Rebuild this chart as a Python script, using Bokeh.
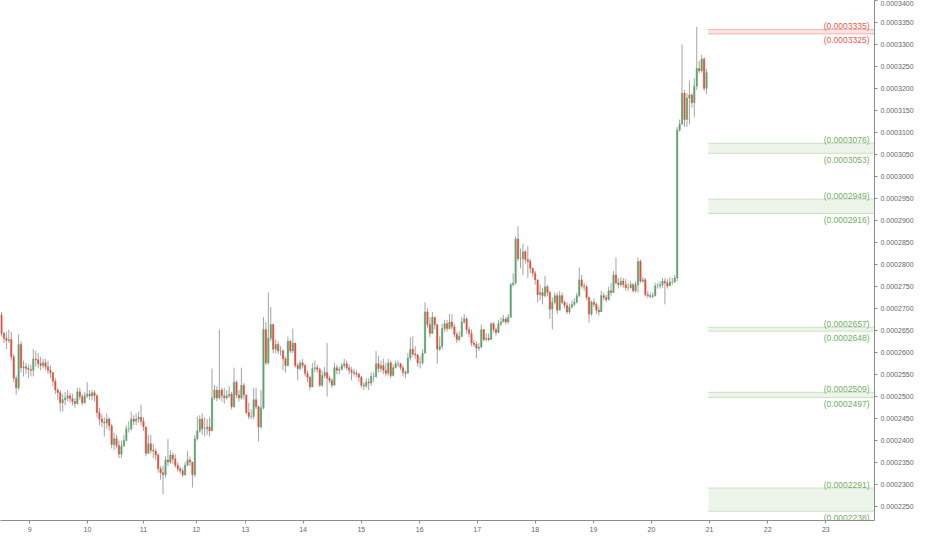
from bokeh.plotting import figure
from bokeh.models import (ColumnDataSource, FixedTicker, SingleIntervalTicker,
                          PrintfTickFormatter, Range1d)
from bokeh.embed import file_html
from bokeh.resources import INLINE
from bokeh.core.properties import value

# prices in units of 1e-7
UNIT = 1e-7
first_open = 2685
close = [2643,2632,2627,2629,2590,2541,2519,2618,2565,2567,
 2563,2561,2559,2585,2583,2574,2570,2576,2567,2559,
 2554,2534,2514,2508,2485,2492,2496,2501,2494,2488,
 2483,2510,2499,2485,2501,2505,2501,2508,2501,2463,
 2448,2441,2439,2448,2432,2390,2403,2388,2368,2386,
 2399,2426,2426,2448,2443,2448,2452,2443,2430,2370,
 2392,2377,2375,2366,2335,2326,2321,2355,2350,2366,
 2357,2343,2335,2330,2321,2343,2355,2350,2321,2403,
 2421,2448,2426,2426,2430,2421,2496,2514,2496,2514,
 2501,2496,2501,2505,2476,2532,
 2503,2496,2525,2503,2463,2454,2454,2492,2476,2430,
 2474,2652,2576,2632,2663,2607,2618,2603,2603,2585,
 2570,2625,2603,2621,2570,2563,2576,2570,2552,2543,
 2521,2563,2565,2561,2525,2547,2554,2541,2536,2525,
 2565,2559,2561,2570,2574,2565,2559,2554,2552,2550,
 2543,2525,2523,2532,2530,2545,2545,2574,2563,2570,
 2559,2552,2576,2547,2565,2574,2574,2565,2554,2552,
 2587,2607,2596,2594,2576,2576,2598,2692,2663,2643,
 2680,2663,2607,2614,2654,2665,2654,2669,2658,2641,
 2629,2636,2669,2676,2652,2643,2621,
 2618,2609,2612,2652,2629,2632,2629,2665,2652,2645,
 2665,2669,2676,2669,2680,2754,2758,2858,2813,2813,
 2829,2811,2807,2791,2780,2765,2731,2736,2729,2749,
 2736,2698,2714,2729,2696,2729,2714,2707,2692,2703,
 2709,2714,2729,2765,2751,2749,2725,2687,2714,2709,
 2696,2692,2729,2725,2720,2740,2736,2776,2758,2754,
 2762,2754,2747,2747,2754,2740,2754,2807,2762,2765,
 2731,2729,2727,2729,2751,2751,2754,2762,2758,2751,
 2760,2760,2769,3106,
 3119,3190,3130,3179,3186,3168,3206,3246,3241,3268,3201,3237]
high = [2692,2647,2647,2652,2647,2596,2547,2641,2625,2581,
 2576,2572,2572,2607,2603,2598,2590,2585,2585,2581,
 2570,2554,2541,2519,2514,2505,2510,2514,2508,2505,
 2496,2519,2519,2505,2510,2532,2514,2514,2514,2505,
 2474,2459,2452,2461,2452,2437,2417,2412,2399,2399,
 2412,2434,2443,2465,2457,2461,2465,2481,2452,2412,
 2412,2412,2392,2381,2370,2341,2341,2363,2403,2377,
 2372,2368,2350,2341,2337,2350,2375,2363,2337,2412,
 2454,2457,2461,2452,2448,2452,2563,2525,2523,2652,
 2519,2519,2514,2523,2510,2565,
 2536,2514,2565,2530,2503,2485,2470,2519,2519,2479,
 2514,2680,2669,2736,2703,2665,2629,2625,2614,2607,
 2590,2636,2629,2654,2621,2576,2581,2585,2574,2559,
 2547,2576,2581,2572,2565,2559,2567,2621,2547,2541,
 2576,2572,2567,2576,2585,2581,2572,2567,2563,2559,
 2554,2547,2532,2541,2541,2554,2554,2603,2592,2581,
 2585,2576,2585,2581,2572,2581,2581,2576,2572,2559,
 2598,2634,2636,2614,2596,2590,2607,2714,2700,2680,
 2692,2680,2658,2636,2665,2674,2674,2687,2687,2665,
 2647,2647,2680,2687,2680,2658,2652,
 2629,2625,2621,2663,2652,2643,2643,2669,2669,2656,
 2674,2680,2685,2680,2687,2758,2780,2864,2887,2836,
 2847,2833,2842,2813,2793,2785,2765,2754,2747,2774,
 2754,2740,2725,2736,2736,2740,2736,2718,2714,2711,
 2718,2723,2736,2793,2776,2758,2754,2727,2718,2723,
 2714,2705,2740,2736,2731,2749,2758,2785,2816,2769,
 2771,2769,2767,2758,2762,2758,2762,2816,2811,2771,
 2769,2740,2736,2736,2758,2758,2762,2769,2769,2767,
 2771,2769,2776,3113,
 3130,3301,3197,3190,3219,3190,3224,3341,3264,3277,3272,3246]
low = [2636,2621,2607,2621,2581,2532,2503,2514,2554,2545,
 2550,2541,2545,2545,2567,2563,2559,2563,2559,2550,
 2541,2523,2505,2492,2465,2465,2479,2488,2485,2479,
 2474,2483,2492,2479,2483,2496,2492,2492,2488,2452,
 2434,2430,2408,2426,2421,2381,2377,2381,2359,2359,
 2386,2399,2417,2421,2434,2434,2439,2434,2421,2363,
 2368,2370,2359,2355,2326,2310,2277,2315,2341,2346,
 2346,2337,2328,2324,2315,2319,2341,2341,2292,2315,
 2399,2417,2412,2408,2412,2408,2439,2492,2488,2492,
 2488,2483,2492,2496,2470,2474,
 2496,2488,2492,2492,2459,2448,2448,2448,2470,2397,
 2426,2470,2570,2572,2625,2598,2598,2596,2592,2559,
 2554,2567,2598,2598,2565,2536,2559,2563,2545,2532,
 2514,2521,2554,2554,2521,2521,2541,2499,2530,2519,
 2530,2550,2550,2559,2563,2559,2550,2536,2545,2543,
 2532,2519,2514,2519,2514,2523,2532,2541,2554,2554,
 2550,2545,2547,2541,2545,2563,2567,2559,2545,2541,
 2552,2581,2590,2585,2567,2563,2572,2598,2656,2634,
 2647,2652,2574,2603,2607,2647,2647,2652,2652,2634,
 2621,2625,2634,2665,2643,2634,2614,
 2612,2587,2603,2609,2625,2625,2625,2629,2645,2638,
 2643,2660,2669,2663,2665,2678,2749,2754,2807,2791,
 2776,2802,2769,2780,2771,2754,2714,2718,2709,2725,
 2727,2676,2652,2709,2687,2696,2709,2700,2687,2687,
 2700,2705,2711,2725,2745,2740,2718,2667,2683,2703,
 2687,2683,2692,2718,2714,2718,2729,2736,2754,2745,
 2749,2747,2740,2740,2745,2736,2736,2736,2758,2758,
 2727,2723,2723,2723,2727,2745,2745,2747,2709,2745,
 2754,2754,2758,2762,
 3102,3124,3113,3113,3119,3157,3135,3197,3235,3237,3195,3188]

# day ticks (bar positions where each day starts) and labels
day_tick_bar = [11.5, 35.1, 58.0, 79.6, 99.6, 123.2, 147.0, 170.8, 194.3,
                218.0, 241.8, 265.5, 289.2, 313.0, 336.7]
day_labels = ["9", "10", "11", "12", "13", "14", "15", "16", "17",
              "18", "19", "20", "21", "22", "23"]

# horizontal zones
zone_upper = [3335, 3076, 2949, 2657, 2509, 2291]
zone_lower = [3325, 3053, 2916, 2648, 2497, 2238]
zone_kind = ["resistance", "support", "support", "support", "support", "support"]

# ---------------------------------------------------------------
UP, DOWN, WICK = "#5ba56c", "#e0503c", "#a3a3a3"
n = len(close)
opens = [first_open] + close[:-1]
xs = list(range(n))
o = [v * UNIT for v in opens]
c = [v * UNIT for v in close]
h = [max(a, b, d) * UNIT for a, b, d in zip(high, opens, close)]
l = [min(a, b, d) * UNIT for a, b, d in zip(low, opens, close)]
top = [max(a, b) for a, b in zip(o, c)]
bot = [min(a, b) for a, b in zip(o, c)]
col = [UP if cc >= oo else DOWN for oo, cc in zip(o, c)]

X0, X1 = -0.4, 356.6
p = figure(width=916, height=534, x_range=Range1d(X0, X1),
           y_range=Range1d(2217 * UNIT, 3401 * UNIT),
           output_backend="svg", toolbar_location=None,
           y_axis_location="right",
           min_border_left=0, min_border_top=0, min_border_right=0, min_border_bottom=0)
p.outline_line_color = None
p.xgrid.visible = False
p.ygrid.visible = False
p.background_fill_color = "white"

# zones
zone_left = n - 1 + 0.8
zsrc = ColumnDataSource(dict(
    top=[v * UNIT for v in zone_upper], bot=[v * UNIT for v in zone_lower],
    fill=["#fbe4e2" if k == "resistance" else "#edf5ea" for k in zone_kind],
    line=["#ef7d73" if k == "resistance" else "#9ccb90" for k in zone_kind],
    tcol=["#e8574b" if k == "resistance" else "#72ad62" for k in zone_kind],
    utxt=["(%.7f)" % (v * UNIT) for v in zone_upper],
    ltxt=["(%.7f)" % (v * UNIT) for v in zone_lower],
    x0=[zone_left] * len(zone_upper), x1=[X1] * len(zone_upper),
))
p.quad(left="x0", right="x1", top="top", bottom="bot", fill_color="fill",
       line_color=None, source=zsrc)
p.segment(x0="x0", x1="x1", y0="top", y1="top", line_color="line",
          line_dash="1 1", line_width=1, source=zsrc)
p.segment(x0="x0", x1="x1", y0="bot", y1="bot", line_color="line",
          line_dash="1 1", line_width=1, source=zsrc)
p.text(x="x1", y="top", text="utxt", text_color="tcol", text_align="right",
       text_baseline="alphabetic", x_offset=-5, y_offset=-3.5,
       text_font=value("Liberation Sans"), text_font_size="8.5px", source=zsrc)
p.text(x="x1", y="bot", text="ltxt", text_color="tcol", text_align="right",
       text_baseline="alphabetic", x_offset=-5, y_offset=6.5,
       text_font=value("Liberation Sans"), text_font_size="8.5px", source=zsrc)

# candles
src = ColumnDataSource(dict(x=xs, h=h, l=l, top=top, bot=bot, col=col))
p.segment(x0="x", x1="x", y0="l", y1="h", line_color=WICK, line_width=1, source=src)
p.vbar(x="x", width=0.6, top="top", bottom="bot", fill_color="col",
       line_color="col", line_width=0.4, source=src)

# axes
ax = p.yaxis[0]
ax.ticker = SingleIntervalTicker(interval=5e-6, num_minor_ticks=0)
ax.formatter = PrintfTickFormatter(format="%.7f")
for a in (p.xaxis[0], ax):
    a.axis_line_color = "#8c8c8c"
    a.major_tick_line_color = "#8c8c8c"
    a.minor_tick_line_color = None
    a.major_tick_in = 0
    a.major_tick_out = 3
    a.major_label_standoff = 3
    a.major_label_text_color = "#666666"
    a.major_label_text_font = "Liberation Sans"
    a.major_label_text_font_size = "7px"

p.xaxis[0].ticker = FixedTicker(ticks=day_tick_bar)
p.xaxis[0].major_label_overrides = {t: s for t, s in zip(day_tick_bar, day_labels)}

open("out.html", "w").write(file_html(p, INLINE))
